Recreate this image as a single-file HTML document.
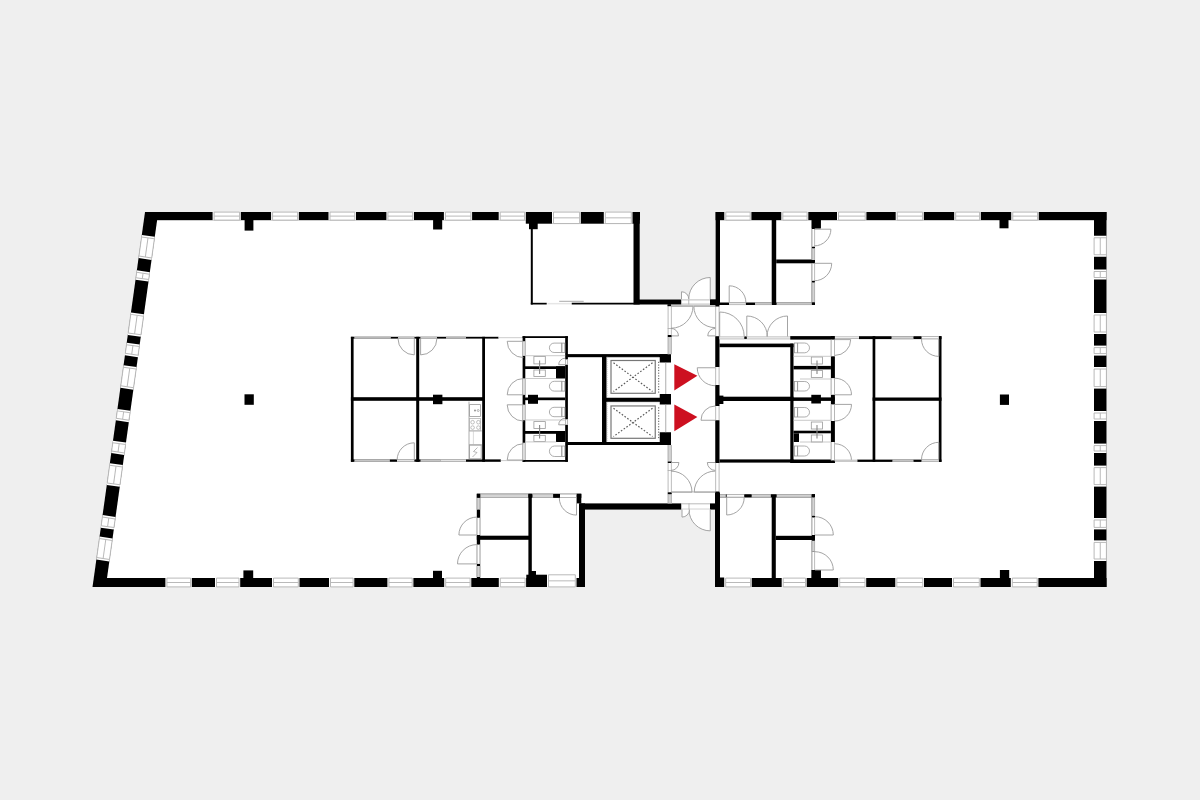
<!DOCTYPE html>
<html><head><meta charset="utf-8"><title>Floor plan</title>
<style>html,body{margin:0;padding:0;background:#efefef;}svg{display:block;}</style></head>
<body><svg width="1200" height="800" viewBox="0 0 1200 800">
<rect width="1200" height="800" fill="#efefef"/>
<polygon points="145,212 640,212 640,299 715,299 715,212 1106.5,212 1106.5,587 715,587 715,510 584.7,510 584.7,587 92.5,587" fill="#fff"/>
<polygon points="145,212 158.25,212 105.75,587 92.5,587" fill="#000"/>
<rect x="145" y="212" width="495" height="8.2" fill="#000"/>
<rect x="525.8" y="212" width="113.9" height="11.7" fill="#000"/>
<rect x="212.6" y="212" width="28.2" height="8.2" fill="#fff"/>
<line x1="214.1" y1="212.1" x2="239.6" y2="212.1" stroke="#b9b9b9" stroke-width="1"/>
<line x1="214.1" y1="220.1" x2="239.6" y2="220.1" stroke="#b9b9b9" stroke-width="1"/>
<line x1="214.1" y1="216.1" x2="239.6" y2="216.1" stroke="#b9b9b9" stroke-width="1"/>
<line x1="214.1" y1="212" x2="214.1" y2="220.2" stroke="#b9b9b9" stroke-width="1"/>
<line x1="239.6" y1="212" x2="239.6" y2="220.2" stroke="#b9b9b9" stroke-width="1"/>
<rect x="271.1" y="212" width="27.7" height="8.2" fill="#fff"/>
<line x1="272.6" y1="212.1" x2="297.6" y2="212.1" stroke="#b9b9b9" stroke-width="1"/>
<line x1="272.6" y1="220.1" x2="297.6" y2="220.1" stroke="#b9b9b9" stroke-width="1"/>
<line x1="272.6" y1="216.1" x2="297.6" y2="216.1" stroke="#b9b9b9" stroke-width="1"/>
<line x1="272.6" y1="212" x2="272.6" y2="220.2" stroke="#b9b9b9" stroke-width="1"/>
<line x1="297.6" y1="212" x2="297.6" y2="220.2" stroke="#b9b9b9" stroke-width="1"/>
<rect x="328.5" y="212" width="27.5" height="8.2" fill="#fff"/>
<line x1="330" y1="212.1" x2="354.8" y2="212.1" stroke="#b9b9b9" stroke-width="1"/>
<line x1="330" y1="220.1" x2="354.8" y2="220.1" stroke="#b9b9b9" stroke-width="1"/>
<line x1="330" y1="216.1" x2="354.8" y2="216.1" stroke="#b9b9b9" stroke-width="1"/>
<line x1="330" y1="212" x2="330" y2="220.2" stroke="#b9b9b9" stroke-width="1"/>
<line x1="354.8" y1="212" x2="354.8" y2="220.2" stroke="#b9b9b9" stroke-width="1"/>
<rect x="386.4" y="212" width="27.6" height="8.2" fill="#fff"/>
<line x1="387.9" y1="212.1" x2="412.8" y2="212.1" stroke="#b9b9b9" stroke-width="1"/>
<line x1="387.9" y1="220.1" x2="412.8" y2="220.1" stroke="#b9b9b9" stroke-width="1"/>
<line x1="387.9" y1="216.1" x2="412.8" y2="216.1" stroke="#b9b9b9" stroke-width="1"/>
<line x1="387.9" y1="212" x2="387.9" y2="220.2" stroke="#b9b9b9" stroke-width="1"/>
<line x1="412.8" y1="212" x2="412.8" y2="220.2" stroke="#b9b9b9" stroke-width="1"/>
<rect x="443.9" y="212" width="28.2" height="8.2" fill="#fff"/>
<line x1="445.4" y1="212.1" x2="470.9" y2="212.1" stroke="#b9b9b9" stroke-width="1"/>
<line x1="445.4" y1="220.1" x2="470.9" y2="220.1" stroke="#b9b9b9" stroke-width="1"/>
<line x1="445.4" y1="216.1" x2="470.9" y2="216.1" stroke="#b9b9b9" stroke-width="1"/>
<line x1="445.4" y1="212" x2="445.4" y2="220.2" stroke="#b9b9b9" stroke-width="1"/>
<line x1="470.9" y1="212" x2="470.9" y2="220.2" stroke="#b9b9b9" stroke-width="1"/>
<rect x="498.7" y="212" width="27.1" height="8.2" fill="#fff"/>
<line x1="500.2" y1="212.1" x2="524.6" y2="212.1" stroke="#b9b9b9" stroke-width="1"/>
<line x1="500.2" y1="220.1" x2="524.6" y2="220.1" stroke="#b9b9b9" stroke-width="1"/>
<line x1="500.2" y1="216.1" x2="524.6" y2="216.1" stroke="#b9b9b9" stroke-width="1"/>
<line x1="500.2" y1="212" x2="500.2" y2="220.2" stroke="#b9b9b9" stroke-width="1"/>
<line x1="524.6" y1="212" x2="524.6" y2="220.2" stroke="#b9b9b9" stroke-width="1"/>
<rect x="552" y="212" width="28.8" height="11.7" fill="#fff"/>
<line x1="553.5" y1="212.1" x2="579.6" y2="212.1" stroke="#b9b9b9" stroke-width="1"/>
<line x1="553.5" y1="223.6" x2="579.6" y2="223.6" stroke="#b9b9b9" stroke-width="1"/>
<line x1="553.5" y1="217.85" x2="579.6" y2="217.85" stroke="#b9b9b9" stroke-width="1"/>
<line x1="553.5" y1="212" x2="553.5" y2="223.7" stroke="#b9b9b9" stroke-width="1"/>
<line x1="579.6" y1="212" x2="579.6" y2="223.7" stroke="#b9b9b9" stroke-width="1"/>
<rect x="603.8" y="212" width="28.7" height="11.7" fill="#fff"/>
<line x1="605.3" y1="212.1" x2="631.3" y2="212.1" stroke="#b9b9b9" stroke-width="1"/>
<line x1="605.3" y1="223.6" x2="631.3" y2="223.6" stroke="#b9b9b9" stroke-width="1"/>
<line x1="605.3" y1="217.85" x2="631.3" y2="217.85" stroke="#b9b9b9" stroke-width="1"/>
<line x1="605.3" y1="212" x2="605.3" y2="223.7" stroke="#b9b9b9" stroke-width="1"/>
<line x1="631.3" y1="212" x2="631.3" y2="223.7" stroke="#b9b9b9" stroke-width="1"/>
<rect x="633.5" y="212" width="6.2" height="92.5" fill="#000"/>
<rect x="635" y="299.5" width="46.5" height="5" fill="#000"/>
<rect x="710" y="299.3" width="7.5" height="5.7" fill="#000"/>
<rect x="244.6" y="212" width="8.8" height="18.6" fill="#000"/>
<rect x="433.1" y="212" width="9.1" height="17.5" fill="#000"/>
<rect x="529" y="212" width="8.7" height="17.2" fill="#000"/>
<rect x="715.6" y="212" width="390.9" height="8.2" fill="#000"/>
<rect x="715.6" y="212" width="4.4" height="93" fill="#000"/>
<rect x="724.3" y="212" width="27.1" height="8.2" fill="#fff"/>
<line x1="725.8" y1="212.1" x2="750.2" y2="212.1" stroke="#b9b9b9" stroke-width="1"/>
<line x1="725.8" y1="220.1" x2="750.2" y2="220.1" stroke="#b9b9b9" stroke-width="1"/>
<line x1="725.8" y1="216.1" x2="750.2" y2="216.1" stroke="#b9b9b9" stroke-width="1"/>
<line x1="725.8" y1="212" x2="725.8" y2="220.2" stroke="#b9b9b9" stroke-width="1"/>
<line x1="750.2" y1="212" x2="750.2" y2="220.2" stroke="#b9b9b9" stroke-width="1"/>
<rect x="781.3" y="212" width="27" height="8.2" fill="#fff"/>
<line x1="782.8" y1="212.1" x2="807.1" y2="212.1" stroke="#b9b9b9" stroke-width="1"/>
<line x1="782.8" y1="220.1" x2="807.1" y2="220.1" stroke="#b9b9b9" stroke-width="1"/>
<line x1="782.8" y1="216.1" x2="807.1" y2="216.1" stroke="#b9b9b9" stroke-width="1"/>
<line x1="782.8" y1="212" x2="782.8" y2="220.2" stroke="#b9b9b9" stroke-width="1"/>
<line x1="807.1" y1="212" x2="807.1" y2="220.2" stroke="#b9b9b9" stroke-width="1"/>
<rect x="837" y="212" width="29.4" height="8.2" fill="#fff"/>
<line x1="838.5" y1="212.1" x2="865.2" y2="212.1" stroke="#b9b9b9" stroke-width="1"/>
<line x1="838.5" y1="220.1" x2="865.2" y2="220.1" stroke="#b9b9b9" stroke-width="1"/>
<line x1="838.5" y1="216.1" x2="865.2" y2="216.1" stroke="#b9b9b9" stroke-width="1"/>
<line x1="838.5" y1="212" x2="838.5" y2="220.2" stroke="#b9b9b9" stroke-width="1"/>
<line x1="865.2" y1="212" x2="865.2" y2="220.2" stroke="#b9b9b9" stroke-width="1"/>
<rect x="895.7" y="212" width="28.1" height="8.2" fill="#fff"/>
<line x1="897.2" y1="212.1" x2="922.6" y2="212.1" stroke="#b9b9b9" stroke-width="1"/>
<line x1="897.2" y1="220.1" x2="922.6" y2="220.1" stroke="#b9b9b9" stroke-width="1"/>
<line x1="897.2" y1="216.1" x2="922.6" y2="216.1" stroke="#b9b9b9" stroke-width="1"/>
<line x1="897.2" y1="212" x2="897.2" y2="220.2" stroke="#b9b9b9" stroke-width="1"/>
<line x1="922.6" y1="212" x2="922.6" y2="220.2" stroke="#b9b9b9" stroke-width="1"/>
<rect x="954.2" y="212" width="26.6" height="8.2" fill="#fff"/>
<line x1="955.7" y1="212.1" x2="979.6" y2="212.1" stroke="#b9b9b9" stroke-width="1"/>
<line x1="955.7" y1="220.1" x2="979.6" y2="220.1" stroke="#b9b9b9" stroke-width="1"/>
<line x1="955.7" y1="216.1" x2="979.6" y2="216.1" stroke="#b9b9b9" stroke-width="1"/>
<line x1="955.7" y1="212" x2="955.7" y2="220.2" stroke="#b9b9b9" stroke-width="1"/>
<line x1="979.6" y1="212" x2="979.6" y2="220.2" stroke="#b9b9b9" stroke-width="1"/>
<rect x="1011.25" y="212" width="27.45" height="8.2" fill="#fff"/>
<line x1="1012.75" y1="212.1" x2="1037.5" y2="212.1" stroke="#b9b9b9" stroke-width="1"/>
<line x1="1012.75" y1="220.1" x2="1037.5" y2="220.1" stroke="#b9b9b9" stroke-width="1"/>
<line x1="1012.75" y1="216.1" x2="1037.5" y2="216.1" stroke="#b9b9b9" stroke-width="1"/>
<line x1="1012.75" y1="212" x2="1012.75" y2="220.2" stroke="#b9b9b9" stroke-width="1"/>
<line x1="1037.5" y1="212" x2="1037.5" y2="220.2" stroke="#b9b9b9" stroke-width="1"/>
<rect x="1094" y="212" width="12.5" height="375" fill="#000"/>
<rect x="1094" y="235.75" width="12.5" height="21" fill="#fff"/>
<line x1="1094.1" y1="237.75" x2="1094.1" y2="254.75" stroke="#b9b9b9" stroke-width="1"/>
<line x1="1106.4" y1="237.75" x2="1106.4" y2="254.75" stroke="#b9b9b9" stroke-width="1"/>
<line x1="1100.25" y1="237.75" x2="1100.25" y2="254.75" stroke="#b9b9b9" stroke-width="1"/>
<line x1="1094" y1="237.75" x2="1106.5" y2="237.75" stroke="#b9b9b9" stroke-width="1"/>
<line x1="1094" y1="254.75" x2="1106.5" y2="254.75" stroke="#b9b9b9" stroke-width="1"/>
<rect x="1094" y="269.5" width="12.5" height="10" fill="#fff"/>
<line x1="1094.1" y1="271.5" x2="1094.1" y2="277.5" stroke="#b9b9b9" stroke-width="1"/>
<line x1="1106.4" y1="271.5" x2="1106.4" y2="277.5" stroke="#b9b9b9" stroke-width="1"/>
<line x1="1100.25" y1="271.5" x2="1100.25" y2="277.5" stroke="#b9b9b9" stroke-width="1"/>
<line x1="1094" y1="271.5" x2="1106.5" y2="271.5" stroke="#b9b9b9" stroke-width="1"/>
<line x1="1094" y1="277.5" x2="1106.5" y2="277.5" stroke="#b9b9b9" stroke-width="1"/>
<rect x="1094" y="313" width="12.5" height="21" fill="#fff"/>
<line x1="1094.1" y1="315" x2="1094.1" y2="332" stroke="#b9b9b9" stroke-width="1"/>
<line x1="1106.4" y1="315" x2="1106.4" y2="332" stroke="#b9b9b9" stroke-width="1"/>
<line x1="1100.25" y1="315" x2="1100.25" y2="332" stroke="#b9b9b9" stroke-width="1"/>
<line x1="1094" y1="315" x2="1106.5" y2="315" stroke="#b9b9b9" stroke-width="1"/>
<line x1="1094" y1="332" x2="1106.5" y2="332" stroke="#b9b9b9" stroke-width="1"/>
<rect x="1094" y="345.6" width="12.5" height="10" fill="#fff"/>
<line x1="1094.1" y1="347.6" x2="1094.1" y2="353.6" stroke="#b9b9b9" stroke-width="1"/>
<line x1="1106.4" y1="347.6" x2="1106.4" y2="353.6" stroke="#b9b9b9" stroke-width="1"/>
<line x1="1100.25" y1="347.6" x2="1100.25" y2="353.6" stroke="#b9b9b9" stroke-width="1"/>
<line x1="1094" y1="347.6" x2="1106.5" y2="347.6" stroke="#b9b9b9" stroke-width="1"/>
<line x1="1094" y1="353.6" x2="1106.5" y2="353.6" stroke="#b9b9b9" stroke-width="1"/>
<rect x="1094" y="367" width="12.5" height="21.6" fill="#fff"/>
<line x1="1094.1" y1="369" x2="1094.1" y2="386.6" stroke="#b9b9b9" stroke-width="1"/>
<line x1="1106.4" y1="369" x2="1106.4" y2="386.6" stroke="#b9b9b9" stroke-width="1"/>
<line x1="1100.25" y1="369" x2="1100.25" y2="386.6" stroke="#b9b9b9" stroke-width="1"/>
<line x1="1094" y1="369" x2="1106.5" y2="369" stroke="#b9b9b9" stroke-width="1"/>
<line x1="1094" y1="386.6" x2="1106.5" y2="386.6" stroke="#b9b9b9" stroke-width="1"/>
<rect x="1094" y="411" width="12.5" height="10" fill="#fff"/>
<line x1="1094.1" y1="413" x2="1094.1" y2="419" stroke="#b9b9b9" stroke-width="1"/>
<line x1="1106.4" y1="413" x2="1106.4" y2="419" stroke="#b9b9b9" stroke-width="1"/>
<line x1="1100.25" y1="413" x2="1100.25" y2="419" stroke="#b9b9b9" stroke-width="1"/>
<line x1="1094" y1="413" x2="1106.5" y2="413" stroke="#b9b9b9" stroke-width="1"/>
<line x1="1094" y1="419" x2="1106.5" y2="419" stroke="#b9b9b9" stroke-width="1"/>
<rect x="1094" y="443.6" width="12.5" height="9.4" fill="#fff"/>
<line x1="1094.1" y1="445.6" x2="1094.1" y2="451" stroke="#b9b9b9" stroke-width="1"/>
<line x1="1106.4" y1="445.6" x2="1106.4" y2="451" stroke="#b9b9b9" stroke-width="1"/>
<line x1="1100.25" y1="445.6" x2="1100.25" y2="451" stroke="#b9b9b9" stroke-width="1"/>
<line x1="1094" y1="445.6" x2="1106.5" y2="445.6" stroke="#b9b9b9" stroke-width="1"/>
<line x1="1094" y1="451" x2="1106.5" y2="451" stroke="#b9b9b9" stroke-width="1"/>
<rect x="1094" y="465.6" width="12.5" height="21" fill="#fff"/>
<line x1="1094.1" y1="467.6" x2="1094.1" y2="484.6" stroke="#b9b9b9" stroke-width="1"/>
<line x1="1106.4" y1="467.6" x2="1106.4" y2="484.6" stroke="#b9b9b9" stroke-width="1"/>
<line x1="1100.25" y1="467.6" x2="1100.25" y2="484.6" stroke="#b9b9b9" stroke-width="1"/>
<line x1="1094" y1="467.6" x2="1106.5" y2="467.6" stroke="#b9b9b9" stroke-width="1"/>
<line x1="1094" y1="484.6" x2="1106.5" y2="484.6" stroke="#b9b9b9" stroke-width="1"/>
<rect x="1094" y="518" width="12.5" height="11.4" fill="#fff"/>
<line x1="1094.1" y1="520" x2="1094.1" y2="527.4" stroke="#b9b9b9" stroke-width="1"/>
<line x1="1106.4" y1="520" x2="1106.4" y2="527.4" stroke="#b9b9b9" stroke-width="1"/>
<line x1="1100.25" y1="520" x2="1100.25" y2="527.4" stroke="#b9b9b9" stroke-width="1"/>
<line x1="1094" y1="520" x2="1106.5" y2="520" stroke="#b9b9b9" stroke-width="1"/>
<line x1="1094" y1="527.4" x2="1106.5" y2="527.4" stroke="#b9b9b9" stroke-width="1"/>
<rect x="1094" y="540.4" width="12.5" height="20.6" fill="#fff"/>
<line x1="1094.1" y1="542.4" x2="1094.1" y2="559" stroke="#b9b9b9" stroke-width="1"/>
<line x1="1106.4" y1="542.4" x2="1106.4" y2="559" stroke="#b9b9b9" stroke-width="1"/>
<line x1="1100.25" y1="542.4" x2="1100.25" y2="559" stroke="#b9b9b9" stroke-width="1"/>
<line x1="1094" y1="542.4" x2="1106.5" y2="542.4" stroke="#b9b9b9" stroke-width="1"/>
<line x1="1094" y1="559" x2="1106.5" y2="559" stroke="#b9b9b9" stroke-width="1"/>
<rect x="812" y="212" width="8.7" height="16.4" fill="#000"/>
<rect x="999.5" y="212" width="9" height="16.3" fill="#000"/>
<rect x="100" y="578" width="484.7" height="9" fill="#000"/>
<rect x="165.4" y="578" width="26.4" height="9" fill="#fff"/>
<line x1="166.9" y1="578.1" x2="190.6" y2="578.1" stroke="#b9b9b9" stroke-width="1"/>
<line x1="166.9" y1="586.9" x2="190.6" y2="586.9" stroke="#b9b9b9" stroke-width="1"/>
<line x1="166.9" y1="582.5" x2="190.6" y2="582.5" stroke="#b9b9b9" stroke-width="1"/>
<line x1="166.9" y1="578" x2="166.9" y2="587" stroke="#b9b9b9" stroke-width="1"/>
<line x1="190.6" y1="578" x2="190.6" y2="587" stroke="#b9b9b9" stroke-width="1"/>
<rect x="215" y="578" width="25.2" height="9" fill="#fff"/>
<line x1="216.5" y1="578.1" x2="239" y2="578.1" stroke="#b9b9b9" stroke-width="1"/>
<line x1="216.5" y1="586.9" x2="239" y2="586.9" stroke="#b9b9b9" stroke-width="1"/>
<line x1="216.5" y1="582.5" x2="239" y2="582.5" stroke="#b9b9b9" stroke-width="1"/>
<line x1="216.5" y1="578" x2="216.5" y2="587" stroke="#b9b9b9" stroke-width="1"/>
<line x1="239" y1="578" x2="239" y2="587" stroke="#b9b9b9" stroke-width="1"/>
<rect x="272" y="578" width="27.5" height="9" fill="#fff"/>
<line x1="273.5" y1="578.1" x2="298.3" y2="578.1" stroke="#b9b9b9" stroke-width="1"/>
<line x1="273.5" y1="586.9" x2="298.3" y2="586.9" stroke="#b9b9b9" stroke-width="1"/>
<line x1="273.5" y1="582.5" x2="298.3" y2="582.5" stroke="#b9b9b9" stroke-width="1"/>
<line x1="273.5" y1="578" x2="273.5" y2="587" stroke="#b9b9b9" stroke-width="1"/>
<line x1="298.3" y1="578" x2="298.3" y2="587" stroke="#b9b9b9" stroke-width="1"/>
<rect x="329" y="578" width="25.3" height="9" fill="#fff"/>
<line x1="330.5" y1="578.1" x2="353.1" y2="578.1" stroke="#b9b9b9" stroke-width="1"/>
<line x1="330.5" y1="586.9" x2="353.1" y2="586.9" stroke="#b9b9b9" stroke-width="1"/>
<line x1="330.5" y1="582.5" x2="353.1" y2="582.5" stroke="#b9b9b9" stroke-width="1"/>
<line x1="330.5" y1="578" x2="330.5" y2="587" stroke="#b9b9b9" stroke-width="1"/>
<line x1="353.1" y1="578" x2="353.1" y2="587" stroke="#b9b9b9" stroke-width="1"/>
<rect x="387.4" y="578" width="26" height="9" fill="#fff"/>
<line x1="388.9" y1="578.1" x2="412.2" y2="578.1" stroke="#b9b9b9" stroke-width="1"/>
<line x1="388.9" y1="586.9" x2="412.2" y2="586.9" stroke="#b9b9b9" stroke-width="1"/>
<line x1="388.9" y1="582.5" x2="412.2" y2="582.5" stroke="#b9b9b9" stroke-width="1"/>
<line x1="388.9" y1="578" x2="388.9" y2="587" stroke="#b9b9b9" stroke-width="1"/>
<line x1="412.2" y1="578" x2="412.2" y2="587" stroke="#b9b9b9" stroke-width="1"/>
<rect x="444.2" y="578" width="27.1" height="9" fill="#fff"/>
<line x1="445.7" y1="578.1" x2="470.1" y2="578.1" stroke="#b9b9b9" stroke-width="1"/>
<line x1="445.7" y1="586.9" x2="470.1" y2="586.9" stroke="#b9b9b9" stroke-width="1"/>
<line x1="445.7" y1="582.5" x2="470.1" y2="582.5" stroke="#b9b9b9" stroke-width="1"/>
<line x1="445.7" y1="578" x2="445.7" y2="587" stroke="#b9b9b9" stroke-width="1"/>
<line x1="470.1" y1="578" x2="470.1" y2="587" stroke="#b9b9b9" stroke-width="1"/>
<rect x="498.8" y="578" width="27.5" height="9" fill="#fff"/>
<line x1="500.3" y1="578.1" x2="525.1" y2="578.1" stroke="#b9b9b9" stroke-width="1"/>
<line x1="500.3" y1="586.9" x2="525.1" y2="586.9" stroke="#b9b9b9" stroke-width="1"/>
<line x1="500.3" y1="582.5" x2="525.1" y2="582.5" stroke="#b9b9b9" stroke-width="1"/>
<line x1="500.3" y1="578" x2="500.3" y2="587" stroke="#b9b9b9" stroke-width="1"/>
<line x1="525.1" y1="578" x2="525.1" y2="587" stroke="#b9b9b9" stroke-width="1"/>
<rect x="526.3" y="574.7" width="20.7" height="12.3" fill="#000"/>
<rect x="529" y="571" width="7" height="4" fill="#000"/>
<rect x="547" y="574.7" width="29.5" height="12.3" fill="#fff"/>
<line x1="548.5" y1="574.8" x2="575.3" y2="574.8" stroke="#b9b9b9" stroke-width="1"/>
<line x1="548.5" y1="586.9" x2="575.3" y2="586.9" stroke="#b9b9b9" stroke-width="1"/>
<line x1="548.5" y1="580.85" x2="575.3" y2="580.85" stroke="#b9b9b9" stroke-width="1"/>
<line x1="548.5" y1="574.7" x2="548.5" y2="587" stroke="#b9b9b9" stroke-width="1"/>
<line x1="575.3" y1="574.7" x2="575.3" y2="587" stroke="#b9b9b9" stroke-width="1"/>
<rect x="576.5" y="493.75" width="4.8" height="9.65" fill="#000"/>
<rect x="579" y="503.4" width="6" height="83.6" fill="#000"/>
<rect x="243.4" y="570.4" width="9.8" height="16.6" fill="#000"/>
<rect x="433" y="570.8" width="9" height="16.2" fill="#000"/>
<rect x="715" y="578" width="391.5" height="9" fill="#000"/>
<rect x="715" y="492.5" width="5" height="94.5" fill="#000"/>
<rect x="715.8" y="577.5" width="8.4" height="9.5" fill="#000"/>
<rect x="724.2" y="578" width="27.5" height="9" fill="#fff"/>
<line x1="725.7" y1="578.1" x2="750.5" y2="578.1" stroke="#b9b9b9" stroke-width="1"/>
<line x1="725.7" y1="586.9" x2="750.5" y2="586.9" stroke="#b9b9b9" stroke-width="1"/>
<line x1="725.7" y1="582.5" x2="750.5" y2="582.5" stroke="#b9b9b9" stroke-width="1"/>
<line x1="725.7" y1="578" x2="725.7" y2="587" stroke="#b9b9b9" stroke-width="1"/>
<line x1="750.5" y1="578" x2="750.5" y2="587" stroke="#b9b9b9" stroke-width="1"/>
<rect x="781.7" y="578" width="25" height="9" fill="#fff"/>
<line x1="783.2" y1="578.1" x2="805.5" y2="578.1" stroke="#b9b9b9" stroke-width="1"/>
<line x1="783.2" y1="586.9" x2="805.5" y2="586.9" stroke="#b9b9b9" stroke-width="1"/>
<line x1="783.2" y1="582.5" x2="805.5" y2="582.5" stroke="#b9b9b9" stroke-width="1"/>
<line x1="783.2" y1="578" x2="783.2" y2="587" stroke="#b9b9b9" stroke-width="1"/>
<line x1="805.5" y1="578" x2="805.5" y2="587" stroke="#b9b9b9" stroke-width="1"/>
<rect x="838.2" y="578" width="28" height="9" fill="#fff"/>
<line x1="839.7" y1="578.1" x2="865" y2="578.1" stroke="#b9b9b9" stroke-width="1"/>
<line x1="839.7" y1="586.9" x2="865" y2="586.9" stroke="#b9b9b9" stroke-width="1"/>
<line x1="839.7" y1="582.5" x2="865" y2="582.5" stroke="#b9b9b9" stroke-width="1"/>
<line x1="839.7" y1="578" x2="839.7" y2="587" stroke="#b9b9b9" stroke-width="1"/>
<line x1="865" y1="578" x2="865" y2="587" stroke="#b9b9b9" stroke-width="1"/>
<rect x="895.3" y="578" width="28.7" height="9" fill="#fff"/>
<line x1="896.8" y1="578.1" x2="922.8" y2="578.1" stroke="#b9b9b9" stroke-width="1"/>
<line x1="896.8" y1="586.9" x2="922.8" y2="586.9" stroke="#b9b9b9" stroke-width="1"/>
<line x1="896.8" y1="582.5" x2="922.8" y2="582.5" stroke="#b9b9b9" stroke-width="1"/>
<line x1="896.8" y1="578" x2="896.8" y2="587" stroke="#b9b9b9" stroke-width="1"/>
<line x1="922.8" y1="578" x2="922.8" y2="587" stroke="#b9b9b9" stroke-width="1"/>
<rect x="952" y="578" width="28.5" height="9" fill="#fff"/>
<line x1="953.5" y1="578.1" x2="979.3" y2="578.1" stroke="#b9b9b9" stroke-width="1"/>
<line x1="953.5" y1="586.9" x2="979.3" y2="586.9" stroke="#b9b9b9" stroke-width="1"/>
<line x1="953.5" y1="582.5" x2="979.3" y2="582.5" stroke="#b9b9b9" stroke-width="1"/>
<line x1="953.5" y1="578" x2="953.5" y2="587" stroke="#b9b9b9" stroke-width="1"/>
<line x1="979.3" y1="578" x2="979.3" y2="587" stroke="#b9b9b9" stroke-width="1"/>
<rect x="1010.8" y="578" width="27.6" height="9" fill="#fff"/>
<line x1="1012.3" y1="578.1" x2="1037.2" y2="578.1" stroke="#b9b9b9" stroke-width="1"/>
<line x1="1012.3" y1="586.9" x2="1037.2" y2="586.9" stroke="#b9b9b9" stroke-width="1"/>
<line x1="1012.3" y1="582.5" x2="1037.2" y2="582.5" stroke="#b9b9b9" stroke-width="1"/>
<line x1="1012.3" y1="578" x2="1012.3" y2="587" stroke="#b9b9b9" stroke-width="1"/>
<line x1="1037.2" y1="578" x2="1037.2" y2="587" stroke="#b9b9b9" stroke-width="1"/>
<rect x="811.7" y="570" width="9.1" height="17" fill="#000"/>
<rect x="999.9" y="570" width="9.3" height="17" fill="#000"/>
<rect x="579.5" y="503.4" width="102" height="6.2" fill="#000"/>
<rect x="710" y="503.4" width="7.5" height="6.2" fill="#000"/>
<g transform="translate(145 212) rotate(7.970)"><rect x="0" y="23.21" width="13.12" height="23.33" fill="#fff"/><line x1="0.1" y1="25.21" x2="0.1" y2="44.54" stroke="#b9b9b9" stroke-width="1"/><line x1="6.56" y1="25.21" x2="6.56" y2="44.54" stroke="#b9b9b9" stroke-width="1"/><line x1="13.02" y1="25.21" x2="13.02" y2="44.54" stroke="#b9b9b9" stroke-width="1"/><line x1="0" y1="25.21" x2="13.12" y2="25.21" stroke="#b9b9b9" stroke-width="1"/><line x1="0" y1="44.54" x2="13.12" y2="44.54" stroke="#b9b9b9" stroke-width="1"/><rect x="0" y="58.91" width="13.12" height="9.44" fill="#fff"/><line x1="0.1" y1="60.91" x2="0.1" y2="66.35" stroke="#b9b9b9" stroke-width="1"/><line x1="6.56" y1="60.91" x2="6.56" y2="66.35" stroke="#b9b9b9" stroke-width="1"/><line x1="13.02" y1="60.91" x2="13.02" y2="66.35" stroke="#b9b9b9" stroke-width="1"/><line x1="0" y1="60.91" x2="13.12" y2="60.91" stroke="#b9b9b9" stroke-width="1"/><line x1="0" y1="66.35" x2="13.12" y2="66.35" stroke="#b9b9b9" stroke-width="1"/><rect x="0" y="101.37" width="13.12" height="22.72" fill="#fff"/><line x1="0.1" y1="103.37" x2="0.1" y2="122.09" stroke="#b9b9b9" stroke-width="1"/><line x1="6.56" y1="103.37" x2="6.56" y2="122.09" stroke="#b9b9b9" stroke-width="1"/><line x1="13.02" y1="103.37" x2="13.02" y2="122.09" stroke="#b9b9b9" stroke-width="1"/><line x1="0" y1="103.37" x2="13.12" y2="103.37" stroke="#b9b9b9" stroke-width="1"/><line x1="0" y1="122.09" x2="13.12" y2="122.09" stroke="#b9b9b9" stroke-width="1"/><rect x="0" y="131.96" width="13.12" height="12.77" fill="#fff"/><line x1="0.1" y1="133.96" x2="0.1" y2="142.74" stroke="#b9b9b9" stroke-width="1"/><line x1="6.56" y1="133.96" x2="6.56" y2="142.74" stroke="#b9b9b9" stroke-width="1"/><line x1="13.02" y1="133.96" x2="13.02" y2="142.74" stroke="#b9b9b9" stroke-width="1"/><line x1="0" y1="133.96" x2="13.12" y2="133.96" stroke="#b9b9b9" stroke-width="1"/><line x1="0" y1="142.74" x2="13.12" y2="142.74" stroke="#b9b9b9" stroke-width="1"/><rect x="0" y="154.68" width="13.12" height="22.87" fill="#fff"/><line x1="0.1" y1="156.68" x2="0.1" y2="175.56" stroke="#b9b9b9" stroke-width="1"/><line x1="6.56" y1="156.68" x2="6.56" y2="175.56" stroke="#b9b9b9" stroke-width="1"/><line x1="13.02" y1="156.68" x2="13.02" y2="175.56" stroke="#b9b9b9" stroke-width="1"/><line x1="0" y1="156.68" x2="13.12" y2="156.68" stroke="#b9b9b9" stroke-width="1"/><line x1="0" y1="175.56" x2="13.12" y2="175.56" stroke="#b9b9b9" stroke-width="1"/><rect x="0" y="198.81" width="13.12" height="11.56" fill="#fff"/><line x1="0.1" y1="200.81" x2="0.1" y2="208.37" stroke="#b9b9b9" stroke-width="1"/><line x1="6.56" y1="200.81" x2="6.56" y2="208.37" stroke="#b9b9b9" stroke-width="1"/><line x1="13.02" y1="200.81" x2="13.02" y2="208.37" stroke="#b9b9b9" stroke-width="1"/><line x1="0" y1="200.81" x2="13.12" y2="200.81" stroke="#b9b9b9" stroke-width="1"/><line x1="0" y1="208.37" x2="13.12" y2="208.37" stroke="#b9b9b9" stroke-width="1"/><rect x="0" y="230.92" width="13.12" height="12.52" fill="#fff"/><line x1="0.1" y1="232.92" x2="0.1" y2="241.44" stroke="#b9b9b9" stroke-width="1"/><line x1="6.56" y1="232.92" x2="6.56" y2="241.44" stroke="#b9b9b9" stroke-width="1"/><line x1="13.02" y1="232.92" x2="13.02" y2="241.44" stroke="#b9b9b9" stroke-width="1"/><line x1="0" y1="232.92" x2="13.12" y2="232.92" stroke="#b9b9b9" stroke-width="1"/><line x1="0" y1="241.44" x2="13.12" y2="241.44" stroke="#b9b9b9" stroke-width="1"/><rect x="0" y="253.74" width="13.12" height="21.81" fill="#fff"/><line x1="0.1" y1="255.74" x2="0.1" y2="273.55" stroke="#b9b9b9" stroke-width="1"/><line x1="6.56" y1="255.74" x2="6.56" y2="273.55" stroke="#b9b9b9" stroke-width="1"/><line x1="13.02" y1="255.74" x2="13.02" y2="273.55" stroke="#b9b9b9" stroke-width="1"/><line x1="0" y1="255.74" x2="13.12" y2="255.74" stroke="#b9b9b9" stroke-width="1"/><line x1="0" y1="273.55" x2="13.12" y2="273.55" stroke="#b9b9b9" stroke-width="1"/><rect x="0" y="306.05" width="13.12" height="12.72" fill="#fff"/><line x1="0.1" y1="308.05" x2="0.1" y2="316.77" stroke="#b9b9b9" stroke-width="1"/><line x1="6.56" y1="308.05" x2="6.56" y2="316.77" stroke="#b9b9b9" stroke-width="1"/><line x1="13.02" y1="308.05" x2="13.02" y2="316.77" stroke="#b9b9b9" stroke-width="1"/><line x1="0" y1="308.05" x2="13.12" y2="308.05" stroke="#b9b9b9" stroke-width="1"/><line x1="0" y1="316.77" x2="13.12" y2="316.77" stroke="#b9b9b9" stroke-width="1"/><rect x="0" y="327.76" width="13.12" height="23.22" fill="#fff"/><line x1="0.1" y1="329.76" x2="0.1" y2="348.98" stroke="#b9b9b9" stroke-width="1"/><line x1="6.56" y1="329.76" x2="6.56" y2="348.98" stroke="#b9b9b9" stroke-width="1"/><line x1="13.02" y1="329.76" x2="13.02" y2="348.98" stroke="#b9b9b9" stroke-width="1"/><line x1="0" y1="329.76" x2="13.12" y2="329.76" stroke="#b9b9b9" stroke-width="1"/><line x1="0" y1="348.98" x2="13.12" y2="348.98" stroke="#b9b9b9" stroke-width="1"/></g>
<rect x="244.5" y="394.3" width="9.3" height="10.5" fill="#000"/>
<rect x="999.9" y="394.5" width="9.1" height="10.4" fill="#000"/>
<rect x="530.8" y="229" width="2" height="75.5" fill="#000"/>
<rect x="530.8" y="302.8" width="15.9" height="1.7" fill="#000"/>
<rect x="571.7" y="302.75" width="63.3" height="1.75" fill="#000"/>
<rect x="547.5" y="302.9" width="23.3" height="1.5" fill="#e6e6e6"/>
<line x1="559.2" y1="301.3" x2="583.7" y2="301.3" stroke="#aaa" stroke-width="1"/>
<rect x="350.9" y="336.8" width="2.7" height="125" fill="#000"/>
<rect x="416.2" y="336.8" width="3" height="125" fill="#000"/>
<rect x="482.2" y="336.8" width="2.8" height="125" fill="#000"/>
<rect x="350.9" y="397.2" width="134.1" height="3.6" fill="#000"/>
<rect x="433" y="394.7" width="9.4" height="9.5" fill="#000"/>
<rect x="350.9" y="336.8" width="147.6" height="1.8" fill="#000"/>
<rect x="354.5" y="336.8" width="36.2" height="1.8" fill="#d4d4d4"/>
<line x1="354.5" y1="337.2" x2="390.7" y2="337.2" stroke="#aaa" stroke-width="0.8"/>
<line x1="354.5" y1="338.2" x2="390.7" y2="338.2" stroke="#aaa" stroke-width="0.8"/>
<rect x="398" y="336.8" width="16.3" height="1.8" fill="#fff"/>
<line x1="398" y1="337.2" x2="414.3" y2="337.2" stroke="#aaa" stroke-width="0.8"/>
<line x1="398" y1="338.2" x2="414.3" y2="338.2" stroke="#aaa" stroke-width="0.8"/>
<rect x="420.6" y="336.8" width="16.4" height="1.8" fill="#fff"/>
<line x1="420.6" y1="337.2" x2="437" y2="337.2" stroke="#aaa" stroke-width="0.8"/>
<line x1="420.6" y1="338.2" x2="437" y2="338.2" stroke="#aaa" stroke-width="0.8"/>
<rect x="446" y="336.8" width="20" height="1.8" fill="#d4d4d4"/>
<line x1="446" y1="337.2" x2="466" y2="337.2" stroke="#aaa" stroke-width="0.8"/>
<line x1="446" y1="338.2" x2="466" y2="338.2" stroke="#aaa" stroke-width="0.8"/>
<path d="M414.3 338.6L414.3 354.9M398 338.6A16.3 16.3 0 0 0 414.3 354.9" fill="none" stroke="#9a9a9a" stroke-width="0.9"/>
<path d="M420.6 338.6L420.6 354.9M436.9 338.6A16.3 16.3 0 0 1 420.6 354.9" fill="none" stroke="#9a9a9a" stroke-width="0.9"/>
<line x1="498.5" y1="337.7" x2="522.6" y2="337.7" stroke="#ccc" stroke-width="1"/>
<rect x="350.9" y="459.4" width="149.9" height="2.4" fill="#000"/>
<rect x="354.5" y="459.4" width="35.3" height="2.4" fill="#d4d4d4"/>
<line x1="354.5" y1="459.8" x2="389.8" y2="459.8" stroke="#aaa" stroke-width="0.8"/>
<line x1="354.5" y1="461.4" x2="389.8" y2="461.4" stroke="#aaa" stroke-width="0.8"/>
<rect x="397" y="459.4" width="17.3" height="2.4" fill="#fff"/>
<line x1="397" y1="459.8" x2="414.3" y2="459.8" stroke="#aaa" stroke-width="0.8"/>
<line x1="397" y1="461.4" x2="414.3" y2="461.4" stroke="#aaa" stroke-width="0.8"/>
<rect x="420.6" y="459.4" width="19.9" height="2.4" fill="#d4d4d4"/>
<line x1="420.6" y1="459.8" x2="440.5" y2="459.8" stroke="#aaa" stroke-width="0.8"/>
<line x1="420.6" y1="461.4" x2="440.5" y2="461.4" stroke="#aaa" stroke-width="0.8"/>
<rect x="440.5" y="459.4" width="25.5" height="2.4" fill="#fff"/>
<line x1="440.5" y1="459.8" x2="466" y2="459.8" stroke="#aaa" stroke-width="0.8"/>
<line x1="440.5" y1="461.4" x2="466" y2="461.4" stroke="#aaa" stroke-width="0.8"/>
<path d="M414.3 460L414.3 442.8M397.1 460A17.2 17.2 0 0 1 414.3 442.8" fill="none" stroke="#9a9a9a" stroke-width="0.9"/>
<line x1="500.8" y1="460.6" x2="522.6" y2="460.6" stroke="#ccc" stroke-width="1"/>
<line x1="469" y1="401.6" x2="469" y2="459" stroke="#999" stroke-width="0.8"/>
<line x1="469" y1="430.9" x2="482" y2="430.9" stroke="#aaa" stroke-width="0.7"/>
<line x1="469" y1="444.9" x2="482" y2="444.9" stroke="#999" stroke-width="0.8"/>
<line x1="473.4" y1="431" x2="473.4" y2="444.9" stroke="#ccc" stroke-width="0.7"/>
<rect x="469.6" y="404.6" width="10.8" height="11.8" fill="none" stroke="#999" stroke-width="0.8"/>
<circle cx="475" cy="410.5" r="0.9" fill="#888"/><circle cx="478.2" cy="410.5" r="1" fill="none" stroke="#888" stroke-width="0.6"/>
<rect x="469.6" y="418.6" width="10.8" height="12.3" fill="none" stroke="#aaa" stroke-width="0.7"/>
<circle cx="472.6" cy="422.2" r="1.8" fill="none" stroke="#999" stroke-width="0.6"/>
<circle cx="478.4" cy="422.2" r="1.8" fill="none" stroke="#999" stroke-width="0.6"/>
<circle cx="472.6" cy="427.6" r="1.8" fill="none" stroke="#999" stroke-width="0.6"/>
<circle cx="478.4" cy="427.6" r="1.8" fill="none" stroke="#999" stroke-width="0.6"/>
<rect x="469.6" y="445" width="11.6" height="13.8" fill="none" stroke="#999" stroke-width="0.8"/>
<path d="M477.5 447.5L473.5 451.5L477 452.5L472.5 457" fill="none" stroke="#999" stroke-width="0.7"/>
<rect x="522.6" y="336.2" width="2.7" height="125.6" fill="#000"/>
<rect x="565.2" y="336.2" width="2.7" height="125.6" fill="#000"/>
<rect x="522.6" y="336.2" width="45.3" height="1.8" fill="#000"/>
<rect x="522.6" y="460" width="45.3" height="1.8" fill="#000"/>
<rect x="525" y="366.3" width="40.2" height="2.7" fill="#000"/>
<rect x="556" y="366.3" width="9.2" height="12.2" fill="#000"/>
<rect x="525" y="397.5" width="40.2" height="2.7" fill="#000"/>
<rect x="528" y="394.8" width="10" height="9" fill="#000"/>
<rect x="525" y="431" width="40.2" height="2.8" fill="#000"/>
<rect x="556" y="431" width="9.2" height="11" fill="#000"/>
<rect x="522.6" y="341.3" width="2.7" height="14.5" fill="#fff"/>
<line x1="523" y1="341.3" x2="523" y2="355.8" stroke="#aaa" stroke-width="0.8"/>
<line x1="524.9" y1="341.3" x2="524.9" y2="355.8" stroke="#aaa" stroke-width="0.8"/>
<rect x="522.6" y="378.5" width="2.7" height="16.3" fill="#fff"/>
<line x1="523" y1="378.5" x2="523" y2="394.8" stroke="#aaa" stroke-width="0.8"/>
<line x1="524.9" y1="378.5" x2="524.9" y2="394.8" stroke="#aaa" stroke-width="0.8"/>
<rect x="522.6" y="404.8" width="2.7" height="15.4" fill="#fff"/>
<line x1="523" y1="404.8" x2="523" y2="420.2" stroke="#aaa" stroke-width="0.8"/>
<line x1="524.9" y1="404.8" x2="524.9" y2="420.2" stroke="#aaa" stroke-width="0.8"/>
<rect x="522.6" y="442.8" width="2.7" height="17.2" fill="#fff"/>
<line x1="523" y1="442.8" x2="523" y2="460" stroke="#aaa" stroke-width="0.8"/>
<line x1="524.9" y1="442.8" x2="524.9" y2="460" stroke="#aaa" stroke-width="0.8"/>
<path d="M523.5 341.3L507.2 341.3M523.5 357.6A16.3 16.3 0 0 1 507.2 341.3" fill="none" stroke="#9a9a9a" stroke-width="0.9"/>
<path d="M523.5 394.8L507.2 394.8M523.5 378.5A16.3 16.3 0 0 0 507.2 394.8" fill="none" stroke="#9a9a9a" stroke-width="0.9"/>
<path d="M523.5 404.8L507.2 404.8M523.5 421.1A16.3 16.3 0 0 1 507.2 404.8" fill="none" stroke="#9a9a9a" stroke-width="0.9"/>
<path d="M523.5 460L507.2 460M523.5 443.7A16.3 16.3 0 0 0 507.2 460" fill="none" stroke="#9a9a9a" stroke-width="0.9"/>
<path d="M561.8 343.1H554.1A4.7 4.7 0 0 0 554.1 352.5H561.8Z" fill="none" stroke="#999" stroke-width="0.8"/>
<rect x="561.8" y="343.1" width="3" height="9.4" fill="none" stroke="#999" stroke-width="0.8"/>
<rect x="533.9" y="356.5" width="11.4" height="7.4" fill="none" stroke="#999" stroke-width="0.8"/>
<rect x="533.9" y="370" width="11.4" height="6.5" fill="none" stroke="#999" stroke-width="0.8"/>
<path d="M561.8 381.3H554.3A4.9 4.9 0 0 0 554.3 391.1H561.8Z" fill="none" stroke="#999" stroke-width="0.8"/>
<rect x="561.8" y="381.3" width="3" height="9.8" fill="none" stroke="#999" stroke-width="0.8"/>
<path d="M561.8 407.3H554.1A4.7 4.7 0 0 0 554.1 416.7H561.8Z" fill="none" stroke="#999" stroke-width="0.8"/>
<rect x="561.8" y="407.3" width="3" height="9.4" fill="none" stroke="#999" stroke-width="0.8"/>
<rect x="533.9" y="421.6" width="11.4" height="6.9" fill="none" stroke="#999" stroke-width="0.8"/>
<rect x="533.9" y="435.4" width="11.4" height="6.1" fill="none" stroke="#999" stroke-width="0.8"/>
<path d="M561.8 446H554.65A5.25 5.25 0 0 0 554.65 456.5H561.8Z" fill="none" stroke="#999" stroke-width="0.8"/>
<rect x="561.8" y="446" width="3" height="10.5" fill="none" stroke="#999" stroke-width="0.8"/>
<line x1="525.3" y1="355.7" x2="565.2" y2="355.7" stroke="#bbb" stroke-width="0.8"/>
<line x1="525.3" y1="378.5" x2="556.3" y2="378.5" stroke="#bbb" stroke-width="0.8"/>
<line x1="525.3" y1="420" x2="565.2" y2="420" stroke="#bbb" stroke-width="0.8"/>
<line x1="525.3" y1="441.9" x2="556.3" y2="441.9" stroke="#bbb" stroke-width="0.8"/>
<line x1="539.6" y1="360.5" x2="539.6" y2="374" stroke="#888" stroke-width="1.1"/>
<line x1="539.6" y1="425" x2="539.6" y2="438.5" stroke="#888" stroke-width="1.1"/>
<rect x="565.2" y="359.4" width="2.7" height="5.3" fill="#fff"/>
<line x1="565.6" y1="359.4" x2="565.6" y2="364.7" stroke="#aaa" stroke-width="0.8"/>
<line x1="567.5" y1="359.4" x2="567.5" y2="364.7" stroke="#aaa" stroke-width="0.8"/>
<rect x="565.2" y="419.3" width="2.7" height="5.5" fill="#fff"/>
<line x1="565.6" y1="419.3" x2="565.6" y2="424.8" stroke="#aaa" stroke-width="0.8"/>
<line x1="567.5" y1="419.3" x2="567.5" y2="424.8" stroke="#aaa" stroke-width="0.8"/>
<path d="M565.2 364.7L558.7 364.7M565.2 358.2A6.5 6.5 0 0 0 558.7 364.7" fill="none" stroke="#9a9a9a" stroke-width="0.9"/>
<path d="M565.2 424.8L558.7 424.8M565.2 418.3A6.5 6.5 0 0 0 558.7 424.8" fill="none" stroke="#9a9a9a" stroke-width="0.9"/>
<rect x="566.75" y="354.1" width="104.25" height="3.1" fill="#000"/>
<rect x="566.75" y="442" width="104.25" height="3" fill="#000"/>
<rect x="602" y="355" width="4.5" height="88.5" fill="#000"/>
<rect x="606" y="397.75" width="54" height="4.05" fill="#000"/>
<rect x="611" y="360.5" width="44.25" height="32.8" fill="none" stroke="#777" stroke-width="1.2"/>
<path d="M613.5 362.8L652.5 391.5M652.5 362.8L613.5 391.5" stroke="#5a5a5a" stroke-width="1.2" stroke-dasharray="1.6 1.8"/>
<line x1="607.4" y1="356.8" x2="607.4" y2="397" stroke="#bbb" stroke-width="0.6" stroke-dasharray="1 1"/>
<line x1="606.5" y1="357.2" x2="659" y2="357.2" stroke="#bbb" stroke-width="0.6" stroke-dasharray="1 1"/>
<line x1="658.7" y1="361.8" x2="658.7" y2="394" stroke="#444" stroke-width="0.9" stroke-dasharray="1.2 1.5"/>
<rect x="611" y="405.95" width="44.25" height="32.35" fill="none" stroke="#777" stroke-width="1.2"/>
<path d="M613.5 408.25L652.5 436.5M652.5 408.25L613.5 436.5" stroke="#5a5a5a" stroke-width="1.2" stroke-dasharray="1.6 1.8"/>
<line x1="607.4" y1="402.25" x2="607.4" y2="442" stroke="#bbb" stroke-width="0.6" stroke-dasharray="1 1"/>
<line x1="606.5" y1="402.65" x2="659" y2="402.65" stroke="#bbb" stroke-width="0.6" stroke-dasharray="1 1"/>
<line x1="658.7" y1="407.25" x2="658.7" y2="439" stroke="#444" stroke-width="0.9" stroke-dasharray="1.2 1.5"/>
<rect x="659.75" y="354.25" width="11.25" height="8.25" fill="#000"/>
<rect x="659.75" y="394" width="11.25" height="10.5" fill="#000"/>
<rect x="659.75" y="432.25" width="11.25" height="12.75" fill="#000"/>
<line x1="665.75" y1="362.5" x2="665.75" y2="394" stroke="#999" stroke-width="0.8"/>
<line x1="665.75" y1="404.5" x2="665.75" y2="432.25" stroke="#999" stroke-width="0.8"/>
<rect x="667.7" y="305" width="4.05" height="30" fill="#fff"/>
<line x1="668.1" y1="305" x2="668.1" y2="335" stroke="#aaa" stroke-width="0.8"/>
<line x1="671.35" y1="305" x2="671.35" y2="335" stroke="#aaa" stroke-width="0.8"/>
<line x1="667.7" y1="328.5" x2="671.75" y2="328.5" stroke="#aaa" stroke-width="0.8"/>
<rect x="667.7" y="335" width="4.05" height="2.3" fill="#000"/>
<rect x="667.7" y="337.3" width="4.05" height="16.95" fill="#d4d4d4"/>
<line x1="668.1" y1="337.3" x2="668.1" y2="354.25" stroke="#aaa" stroke-width="0.8"/>
<line x1="671.35" y1="337.3" x2="671.35" y2="354.25" stroke="#aaa" stroke-width="0.8"/>
<rect x="667.7" y="445" width="4.05" height="16.5" fill="#d4d4d4"/>
<line x1="668.1" y1="445" x2="668.1" y2="461.5" stroke="#aaa" stroke-width="0.8"/>
<line x1="671.35" y1="445" x2="671.35" y2="461.5" stroke="#aaa" stroke-width="0.8"/>
<rect x="667.7" y="461.5" width="4.05" height="1.5" fill="#000"/>
<rect x="667.7" y="463" width="4.05" height="29.3" fill="#fff"/>
<line x1="668.1" y1="463" x2="668.1" y2="492.3" stroke="#aaa" stroke-width="0.8"/>
<line x1="671.35" y1="463" x2="671.35" y2="492.3" stroke="#aaa" stroke-width="0.8"/>
<line x1="667.7" y1="470.5" x2="671.75" y2="470.5" stroke="#aaa" stroke-width="0.8"/>
<rect x="667.7" y="492.3" width="4.05" height="2.2" fill="#000"/>
<rect x="667.7" y="494.5" width="4.05" height="8.9" fill="#d4d4d4"/>
<line x1="668.1" y1="494.5" x2="668.1" y2="503.4" stroke="#aaa" stroke-width="0.8"/>
<line x1="671.35" y1="494.5" x2="671.35" y2="503.4" stroke="#aaa" stroke-width="0.8"/>
<rect x="715.25" y="305" width="4.25" height="31.2" fill="#fff"/>
<line x1="715.65" y1="305" x2="715.65" y2="336.2" stroke="#aaa" stroke-width="0.8"/>
<line x1="719.1" y1="305" x2="719.1" y2="336.2" stroke="#aaa" stroke-width="0.8"/>
<rect x="715.25" y="336.2" width="4.25" height="30.8" fill="#000"/>
<rect x="715.25" y="367" width="4.25" height="18" fill="#fff"/>
<line x1="715.65" y1="367" x2="715.65" y2="385" stroke="#aaa" stroke-width="0.8"/>
<line x1="719.1" y1="367" x2="719.1" y2="385" stroke="#aaa" stroke-width="0.8"/>
<rect x="715.25" y="385" width="4.25" height="21" fill="#000"/>
<rect x="715.25" y="406" width="4.25" height="14.25" fill="#fff"/>
<line x1="715.65" y1="406" x2="715.65" y2="420.25" stroke="#aaa" stroke-width="0.8"/>
<line x1="719.1" y1="406" x2="719.1" y2="420.25" stroke="#aaa" stroke-width="0.8"/>
<rect x="715.25" y="420.25" width="4.25" height="42.75" fill="#000"/>
<rect x="715.25" y="463" width="4.25" height="28.5" fill="#fff"/>
<line x1="715.65" y1="463" x2="715.65" y2="491.5" stroke="#aaa" stroke-width="0.8"/>
<line x1="719.1" y1="463" x2="719.1" y2="491.5" stroke="#aaa" stroke-width="0.8"/>
<rect x="715.25" y="491.5" width="4.25" height="11.9" fill="#000"/>
<rect x="681.5" y="299.5" width="28.5" height="5" fill="#fff"/>
<line x1="681.5" y1="299.9" x2="710" y2="299.9" stroke="#aaa" stroke-width="0.8"/>
<line x1="681.5" y1="304.1" x2="710" y2="304.1" stroke="#aaa" stroke-width="0.8"/>
<path d="M710.25 299L688.75 299A21.5 21.5 0 0 1 710.25 277.5Z" fill="#fff"/>
<path d="M710.25 299L710.25 277.5M688.75 299A21.5 21.5 0 0 1 710.25 277.5" fill="none" stroke="#9a9a9a" stroke-width="0.9"/>
<path d="M681.5 299L688.75 299A7.25 7.25 0 0 0 681.5 291.75Z" fill="#fff"/>
<path d="M681.5 299L681.5 291.75M688.75 299A7.25 7.25 0 0 0 681.5 291.75" fill="none" stroke="#9a9a9a" stroke-width="0.9"/>
<line x1="688.75" y1="299.5" x2="688.75" y2="304.5" stroke="#aaa" stroke-width="0.8"/>
<rect x="681.5" y="503.4" width="28.5" height="6.2" fill="#fff"/>
<line x1="681.5" y1="503.8" x2="710" y2="503.8" stroke="#aaa" stroke-width="0.8"/>
<line x1="681.5" y1="509.2" x2="710" y2="509.2" stroke="#aaa" stroke-width="0.8"/>
<path d="M710.25 509.6L689 509.6A21.25 21.25 0 0 0 710.25 530.85Z" fill="#fff"/>
<path d="M710.25 509.6L710.25 530.85M689 509.6A21.25 21.25 0 0 0 710.25 530.85" fill="none" stroke="#9a9a9a" stroke-width="0.9"/>
<path d="M682 509.6L689.5 509.6A7.5 7.5 0 0 1 682 517.1Z" fill="#fff"/>
<path d="M682 509.6L682 517.1M689.5 509.6A7.5 7.5 0 0 1 682 517.1" fill="none" stroke="#9a9a9a" stroke-width="0.9"/>
<line x1="689" y1="503.4" x2="689" y2="509.6" stroke="#aaa" stroke-width="0.8"/>
<rect x="667.5" y="304.2" width="3.5" height="2" fill="#000"/>
<rect x="715.3" y="304.5" width="4" height="2" fill="#000"/>
<line x1="671.75" y1="305.75" x2="715.25" y2="305.75" stroke="#aaa" stroke-width="0.8"/>
<path d="M671 306.25L693 306.25M671 328.25A22 22 0 0 0 693 306.25" fill="none" stroke="#9a9a9a" stroke-width="0.9"/>
<path d="M715.25 306.25L693.85 306.25M715.25 327.65A21.4 21.4 0 0 1 693.85 306.25" fill="none" stroke="#9a9a9a" stroke-width="0.9"/>
<path d="M671 335.9L678.5 335.9M671 328.4A7.5 7.5 0 0 1 678.5 335.9" fill="none" stroke="#9a9a9a" stroke-width="0.9"/>
<path d="M715.25 335.9L707.75 335.9M715.25 328.4A7.5 7.5 0 0 0 707.75 335.9" fill="none" stroke="#9a9a9a" stroke-width="0.9"/>
<line x1="671.75" y1="492" x2="715.25" y2="492" stroke="#aaa" stroke-width="0.8"/>
<path d="M671 492.1L692 492.1M671 471.1A21 21 0 0 1 692 492.1" fill="none" stroke="#9a9a9a" stroke-width="0.9"/>
<path d="M715.25 492.1L694.25 492.1M715.25 471.1A21 21 0 0 0 694.25 492.1" fill="none" stroke="#9a9a9a" stroke-width="0.9"/>
<path d="M671 462.5L678.9 462.5M671 470.4A7.9 7.9 0 0 0 678.9 462.5" fill="none" stroke="#9a9a9a" stroke-width="0.9"/>
<path d="M715.25 462.5L707.35 462.5M715.25 470.4A7.9 7.9 0 0 1 707.35 462.5" fill="none" stroke="#9a9a9a" stroke-width="0.9"/>
<path d="M715.25 367.75L697.25 367.75M715.25 385.75A18 18 0 0 1 697.25 367.75" fill="none" stroke="#9a9a9a" stroke-width="0.9"/>
<path d="M715.25 420.25L701 420.25M715.25 406A14.25 14.25 0 0 0 701 420.25" fill="none" stroke="#9a9a9a" stroke-width="0.9"/>
<polygon points="674.3,364.3 674.3,390.6 697.4,375.8" fill="#cd1020"/>
<polygon points="674.3,404.4 674.3,431.2 697.4,417" fill="#cd1020"/>
<rect x="719.5" y="343.6" width="74" height="3.6" fill="#000"/>
<rect x="790.3" y="343.6" width="3.2" height="119" fill="#000"/>
<rect x="719.5" y="396.7" width="74" height="4.3" fill="#000"/>
<rect x="717" y="395.6" width="6.4" height="8.4" fill="#000"/>
<rect x="719.5" y="459.4" width="74" height="3.2" fill="#000"/>
<rect x="719.5" y="336.5" width="70.8" height="2.8" fill="#fff"/>
<line x1="719.5" y1="336.9" x2="790.3" y2="336.9" stroke="#aaa" stroke-width="0.8"/>
<line x1="719.5" y1="338.9" x2="790.3" y2="338.9" stroke="#aaa" stroke-width="0.8"/>
<rect x="744.3" y="336.5" width="2.5" height="2.4" fill="#000"/>
<path d="M719.7 336.5L719.7 312M744.2 336.5A24.5 24.5 0 0 0 719.7 312" fill="none" stroke="#9a9a9a" stroke-width="0.9"/>
<path d="M746.8 336.5L746.8 316M767.3 336.5A20.5 20.5 0 0 0 746.8 316" fill="none" stroke="#9a9a9a" stroke-width="0.9"/>
<path d="M787.5 336.5L787.5 316M767 336.5A20.5 20.5 0 0 1 787.5 316" fill="none" stroke="#9a9a9a" stroke-width="0.9"/>
<rect x="790.25" y="336.1" width="44.65" height="3.5" fill="#000"/>
<rect x="790.25" y="459.5" width="44.65" height="3.5" fill="#000"/>
<rect x="830.9" y="336.1" width="4" height="126.9" fill="#000"/>
<rect x="793.5" y="365.9" width="37.4" height="3.5" fill="#000"/>
<rect x="785" y="397.4" width="49.9" height="3.5" fill="#000"/>
<rect x="811.3" y="394.8" width="9.6" height="8.7" fill="#000"/>
<rect x="793.5" y="430.7" width="37.4" height="2.6" fill="#000"/>
<rect x="793.75" y="433.3" width="5.25" height="8.7" fill="#000"/>
<rect x="830.9" y="339.6" width="4" height="16.7" fill="#fff"/>
<line x1="831.3" y1="339.6" x2="831.3" y2="356.3" stroke="#aaa" stroke-width="0.8"/>
<line x1="834.5" y1="339.6" x2="834.5" y2="356.3" stroke="#aaa" stroke-width="0.8"/>
<rect x="830.9" y="378.1" width="4" height="16.7" fill="#fff"/>
<line x1="831.3" y1="378.1" x2="831.3" y2="394.8" stroke="#aaa" stroke-width="0.8"/>
<line x1="834.5" y1="378.1" x2="834.5" y2="394.8" stroke="#aaa" stroke-width="0.8"/>
<rect x="830.9" y="404.4" width="4" height="16.6" fill="#fff"/>
<line x1="831.3" y1="404.4" x2="831.3" y2="421" stroke="#aaa" stroke-width="0.8"/>
<line x1="834.5" y1="404.4" x2="834.5" y2="421" stroke="#aaa" stroke-width="0.8"/>
<rect x="830.9" y="442" width="4" height="18.4" fill="#fff"/>
<line x1="831.3" y1="442" x2="831.3" y2="460.4" stroke="#aaa" stroke-width="0.8"/>
<line x1="834.5" y1="442" x2="834.5" y2="460.4" stroke="#aaa" stroke-width="0.8"/>
<path d="M834.9 339.6L850.7 339.6M834.9 355.4A15.8 15.8 0 0 0 850.7 339.6" fill="none" stroke="#9a9a9a" stroke-width="0.9"/>
<path d="M834.9 394.8L851.5 394.8M834.9 378.2A16.6 16.6 0 0 1 851.5 394.8" fill="none" stroke="#9a9a9a" stroke-width="0.9"/>
<path d="M834.9 404.4L851.5 404.4M834.9 421A16.6 16.6 0 0 0 851.5 404.4" fill="none" stroke="#9a9a9a" stroke-width="0.9"/>
<path d="M834.9 460.4L851.5 460.4M834.9 443.8A16.6 16.6 0 0 1 851.5 460.4" fill="none" stroke="#9a9a9a" stroke-width="0.9"/>
<path d="M797.6 343H804.6A4.9 4.9 0 0 1 804.6 352.8H797.6Z" fill="none" stroke="#999" stroke-width="0.8"/>
<rect x="794.6" y="343" width="3" height="9.8" fill="none" stroke="#999" stroke-width="0.8"/>
<rect x="811.3" y="357" width="11.3" height="7" fill="none" stroke="#999" stroke-width="0.8"/>
<rect x="811.3" y="370.5" width="11.3" height="7" fill="none" stroke="#999" stroke-width="0.8"/>
<path d="M797.6 381.5H804.75A4.75 4.75 0 0 1 804.75 391H797.6Z" fill="none" stroke="#999" stroke-width="0.8"/>
<rect x="794.6" y="381.5" width="3" height="9.5" fill="none" stroke="#999" stroke-width="0.8"/>
<path d="M797.6 407.5H804.75A4.75 4.75 0 0 1 804.75 417H797.6Z" fill="none" stroke="#999" stroke-width="0.8"/>
<rect x="794.6" y="407.5" width="3" height="9.5" fill="none" stroke="#999" stroke-width="0.8"/>
<rect x="811.3" y="422" width="11.3" height="7" fill="none" stroke="#999" stroke-width="0.8"/>
<rect x="811.3" y="435" width="11.3" height="7" fill="none" stroke="#999" stroke-width="0.8"/>
<path d="M797.6 446H804.5A5 5 0 0 1 804.5 456H797.6Z" fill="none" stroke="#999" stroke-width="0.8"/>
<rect x="794.6" y="446" width="3" height="10" fill="none" stroke="#999" stroke-width="0.8"/>
<line x1="793.5" y1="356.3" x2="830.9" y2="356.3" stroke="#bbb" stroke-width="0.8"/>
<line x1="800" y1="379" x2="830.9" y2="379" stroke="#bbb" stroke-width="0.8"/>
<line x1="793.5" y1="420.3" x2="830.9" y2="420.3" stroke="#bbb" stroke-width="0.8"/>
<line x1="800" y1="442" x2="830.9" y2="442" stroke="#bbb" stroke-width="0.8"/>
<line x1="817" y1="360.5" x2="817" y2="374" stroke="#888" stroke-width="1.1"/>
<line x1="817" y1="425" x2="817" y2="438.5" stroke="#888" stroke-width="1.1"/>
<rect x="872.6" y="336.2" width="2.7" height="125.7" fill="#000"/>
<rect x="938.8" y="336.2" width="2.7" height="125.7" fill="#000"/>
<rect x="872.6" y="397.5" width="68.9" height="3.3" fill="#000"/>
<rect x="859" y="336.2" width="82.5" height="2.9" fill="#000"/>
<rect x="857.2" y="459.6" width="84.3" height="2.3" fill="#000"/>
<rect x="834.9" y="336.4" width="24.1" height="2.5" fill="#fff"/>
<line x1="834.9" y1="336.8" x2="859" y2="336.8" stroke="#aaa" stroke-width="0.8"/>
<line x1="834.9" y1="338.5" x2="859" y2="338.5" stroke="#aaa" stroke-width="0.8"/>
<rect x="891.6" y="336.2" width="21.8" height="2.9" fill="#d4d4d4"/>
<line x1="891.6" y1="336.6" x2="913.4" y2="336.6" stroke="#aaa" stroke-width="0.8"/>
<line x1="891.6" y1="338.7" x2="913.4" y2="338.7" stroke="#aaa" stroke-width="0.8"/>
<rect x="921.6" y="336.2" width="17.2" height="2.9" fill="#fff"/>
<line x1="921.6" y1="336.6" x2="938.8" y2="336.6" stroke="#aaa" stroke-width="0.8"/>
<line x1="921.6" y1="338.7" x2="938.8" y2="338.7" stroke="#aaa" stroke-width="0.8"/>
<rect x="834.9" y="459.8" width="22.3" height="1.9" fill="#fff"/>
<line x1="834.9" y1="460.2" x2="857.2" y2="460.2" stroke="#aaa" stroke-width="0.8"/>
<line x1="834.9" y1="461.3" x2="857.2" y2="461.3" stroke="#aaa" stroke-width="0.8"/>
<rect x="892.5" y="459.6" width="20.9" height="2.3" fill="#d4d4d4"/>
<line x1="892.5" y1="460" x2="913.4" y2="460" stroke="#aaa" stroke-width="0.8"/>
<line x1="892.5" y1="461.5" x2="913.4" y2="461.5" stroke="#aaa" stroke-width="0.8"/>
<rect x="921.6" y="459.6" width="17.2" height="2.3" fill="#fff"/>
<line x1="921.6" y1="460" x2="938.8" y2="460" stroke="#aaa" stroke-width="0.8"/>
<line x1="921.6" y1="461.5" x2="938.8" y2="461.5" stroke="#aaa" stroke-width="0.8"/>
<path d="M938.8 339.1L938.8 356.4M921.5 339.1A17.3 17.3 0 0 0 938.8 356.4" fill="none" stroke="#9a9a9a" stroke-width="0.9"/>
<path d="M938.8 459.6L938.8 442.3M921.5 459.6A17.3 17.3 0 0 1 938.8 442.3" fill="none" stroke="#9a9a9a" stroke-width="0.9"/>
<rect x="771.7" y="220" width="4.5" height="85" fill="#000"/>
<rect x="776.2" y="259.5" width="38" height="3.8" fill="#000"/>
<rect x="811.7" y="220" width="3.3" height="85" fill="#000"/>
<rect x="811.7" y="220" width="9.1" height="8.3" fill="#000"/>
<rect x="811.7" y="229" width="3.3" height="17.7" fill="#fff"/>
<line x1="812.1" y1="229" x2="812.1" y2="246.7" stroke="#aaa" stroke-width="0.8"/>
<line x1="814.6" y1="229" x2="814.6" y2="246.7" stroke="#aaa" stroke-width="0.8"/>
<rect x="811.7" y="248.3" width="3.3" height="11.7" fill="#d4d4d4"/>
<line x1="812.1" y1="248.3" x2="812.1" y2="260" stroke="#aaa" stroke-width="0.8"/>
<line x1="814.6" y1="248.3" x2="814.6" y2="260" stroke="#aaa" stroke-width="0.8"/>
<rect x="811.7" y="263.3" width="3.3" height="17.5" fill="#fff"/>
<line x1="812.1" y1="263.3" x2="812.1" y2="280.8" stroke="#aaa" stroke-width="0.8"/>
<line x1="814.6" y1="263.3" x2="814.6" y2="280.8" stroke="#aaa" stroke-width="0.8"/>
<rect x="811.7" y="282.5" width="3.3" height="20" fill="#d4d4d4"/>
<line x1="812.1" y1="282.5" x2="812.1" y2="302.5" stroke="#aaa" stroke-width="0.8"/>
<line x1="814.6" y1="282.5" x2="814.6" y2="302.5" stroke="#aaa" stroke-width="0.8"/>
<rect x="717.5" y="302.5" width="97.5" height="2.5" fill="#000"/>
<rect x="729" y="302.5" width="16.8" height="2.5" fill="#fff"/>
<line x1="729" y1="302.9" x2="745.8" y2="302.9" stroke="#aaa" stroke-width="0.8"/>
<line x1="729" y1="304.6" x2="745.8" y2="304.6" stroke="#aaa" stroke-width="0.8"/>
<rect x="755" y="302.5" width="16.7" height="2.5" fill="#d4d4d4"/>
<line x1="755" y1="302.9" x2="771.7" y2="302.9" stroke="#aaa" stroke-width="0.8"/>
<line x1="755" y1="304.6" x2="771.7" y2="304.6" stroke="#aaa" stroke-width="0.8"/>
<rect x="776.7" y="302.5" width="35" height="2.5" fill="#d4d4d4"/>
<line x1="776.7" y1="302.9" x2="811.7" y2="302.9" stroke="#aaa" stroke-width="0.8"/>
<line x1="776.7" y1="304.6" x2="811.7" y2="304.6" stroke="#aaa" stroke-width="0.8"/>
<path d="M729.2 302.5L729.2 285.8M745.9 302.5A16.7 16.7 0 0 0 729.2 285.8" fill="none" stroke="#9a9a9a" stroke-width="0.9"/>
<path d="M814.2 229.2L830.9 229.2M814.2 245.9A16.7 16.7 0 0 0 830.9 229.2" fill="none" stroke="#9a9a9a" stroke-width="0.9"/>
<path d="M814.2 263.3L831.7 263.3M814.2 280.8A17.5 17.5 0 0 0 831.7 263.3" fill="none" stroke="#9a9a9a" stroke-width="0.9"/>
<rect x="720" y="494.2" width="95" height="3.3" fill="#000"/>
<rect x="720" y="494.2" width="5.8" height="3.3" fill="#d4d4d4"/>
<line x1="720" y1="494.6" x2="725.8" y2="494.6" stroke="#aaa" stroke-width="0.8"/>
<line x1="720" y1="497.1" x2="725.8" y2="497.1" stroke="#aaa" stroke-width="0.8"/>
<rect x="726.7" y="494.2" width="17.5" height="3.3" fill="#fff"/>
<line x1="726.7" y1="494.6" x2="744.2" y2="494.6" stroke="#aaa" stroke-width="0.8"/>
<line x1="726.7" y1="497.1" x2="744.2" y2="497.1" stroke="#aaa" stroke-width="0.8"/>
<rect x="751.7" y="494.2" width="19.1" height="3.3" fill="#d4d4d4"/>
<line x1="751.7" y1="494.6" x2="770.8" y2="494.6" stroke="#aaa" stroke-width="0.8"/>
<line x1="751.7" y1="497.1" x2="770.8" y2="497.1" stroke="#aaa" stroke-width="0.8"/>
<rect x="776.7" y="494.2" width="35" height="3.3" fill="#d4d4d4"/>
<line x1="776.7" y1="494.6" x2="811.7" y2="494.6" stroke="#aaa" stroke-width="0.8"/>
<line x1="776.7" y1="497.1" x2="811.7" y2="497.1" stroke="#aaa" stroke-width="0.8"/>
<rect x="771.7" y="495" width="4.1" height="83.3" fill="#000"/>
<rect x="775.8" y="535.8" width="38.4" height="4.2" fill="#000"/>
<rect x="811.7" y="494.2" width="3.3" height="83.8" fill="#000"/>
<rect x="811.7" y="497.5" width="3.3" height="18.3" fill="#d4d4d4"/>
<line x1="812.1" y1="497.5" x2="812.1" y2="515.8" stroke="#aaa" stroke-width="0.8"/>
<line x1="814.6" y1="497.5" x2="814.6" y2="515.8" stroke="#aaa" stroke-width="0.8"/>
<rect x="811.7" y="517.5" width="3.3" height="17.5" fill="#fff"/>
<line x1="812.1" y1="517.5" x2="812.1" y2="535" stroke="#aaa" stroke-width="0.8"/>
<line x1="814.6" y1="517.5" x2="814.6" y2="535" stroke="#aaa" stroke-width="0.8"/>
<rect x="811.7" y="540.8" width="3.3" height="10.9" fill="#d4d4d4"/>
<line x1="812.1" y1="540.8" x2="812.1" y2="551.7" stroke="#aaa" stroke-width="0.8"/>
<line x1="814.6" y1="540.8" x2="814.6" y2="551.7" stroke="#aaa" stroke-width="0.8"/>
<rect x="811.7" y="552" width="3.3" height="18" fill="#fff"/>
<line x1="812.1" y1="552" x2="812.1" y2="570" stroke="#aaa" stroke-width="0.8"/>
<line x1="814.6" y1="552" x2="814.6" y2="570" stroke="#aaa" stroke-width="0.8"/>
<rect x="811.7" y="570" width="9.1" height="8.3" fill="#000"/>
<path d="M726.7 497.5L726.7 515M744.2 497.5A17.5 17.5 0 0 1 726.7 515" fill="none" stroke="#9a9a9a" stroke-width="0.9"/>
<path d="M815 535L833.3 535M815 516.7A18.3 18.3 0 0 1 833.3 535" fill="none" stroke="#9a9a9a" stroke-width="0.9"/>
<path d="M815 570L833.3 570M815 551.7A18.3 18.3 0 0 1 833.3 570" fill="none" stroke="#9a9a9a" stroke-width="0.9"/>
<rect x="476.8" y="493.75" width="104.5" height="4.15" fill="#000"/>
<rect x="480.2" y="493.75" width="48.2" height="4.15" fill="#d4d4d4"/>
<line x1="480.2" y1="494.15" x2="528.4" y2="494.15" stroke="#aaa" stroke-width="0.8"/>
<line x1="480.2" y1="497.5" x2="528.4" y2="497.5" stroke="#aaa" stroke-width="0.8"/>
<rect x="532.5" y="493.75" width="20.6" height="4.15" fill="#d4d4d4"/>
<line x1="532.5" y1="494.15" x2="553.1" y2="494.15" stroke="#aaa" stroke-width="0.8"/>
<line x1="532.5" y1="497.5" x2="553.1" y2="497.5" stroke="#aaa" stroke-width="0.8"/>
<rect x="560" y="493.75" width="16.5" height="4.15" fill="#fff"/>
<line x1="560" y1="494.15" x2="576.5" y2="494.15" stroke="#aaa" stroke-width="0.8"/>
<line x1="560" y1="497.5" x2="576.5" y2="497.5" stroke="#aaa" stroke-width="0.8"/>
<rect x="476.8" y="493.75" width="3.4" height="84.25" fill="#000"/>
<rect x="476.8" y="497.9" width="3.4" height="11.7" fill="#d4d4d4"/>
<line x1="477.2" y1="497.9" x2="477.2" y2="509.6" stroke="#aaa" stroke-width="0.8"/>
<line x1="479.8" y1="497.9" x2="479.8" y2="509.6" stroke="#aaa" stroke-width="0.8"/>
<rect x="476.8" y="517.8" width="3.4" height="17.2" fill="#fff"/>
<line x1="477.2" y1="517.8" x2="477.2" y2="535" stroke="#aaa" stroke-width="0.8"/>
<line x1="479.8" y1="517.8" x2="479.8" y2="535" stroke="#aaa" stroke-width="0.8"/>
<rect x="476.8" y="544.6" width="3.4" height="19.3" fill="#fff"/>
<line x1="477.2" y1="544.6" x2="477.2" y2="563.9" stroke="#aaa" stroke-width="0.8"/>
<line x1="479.8" y1="544.6" x2="479.8" y2="563.9" stroke="#aaa" stroke-width="0.8"/>
<rect x="476.8" y="566" width="3.4" height="11" fill="#d4d4d4"/>
<line x1="477.2" y1="566" x2="477.2" y2="577" stroke="#aaa" stroke-width="0.8"/>
<line x1="479.8" y1="566" x2="479.8" y2="577" stroke="#aaa" stroke-width="0.8"/>
<rect x="528.4" y="493.75" width="3.4" height="82.5" fill="#000"/>
<rect x="476.8" y="535.7" width="53.2" height="4.1" fill="#000"/>
<path d="M476.8 535L458.9 535M476.8 517.1A17.9 17.9 0 0 0 458.9 535" fill="none" stroke="#9a9a9a" stroke-width="0.9"/>
<path d="M476.8 563.9L457.5 563.9M476.8 544.6A19.3 19.3 0 0 0 457.5 563.9" fill="none" stroke="#9a9a9a" stroke-width="0.9"/>
<path d="M576.5 497.9L576.5 515.1M559.3 497.9A17.2 17.2 0 0 0 576.5 515.1" fill="none" stroke="#9a9a9a" stroke-width="0.9"/>
</svg></body></html>
